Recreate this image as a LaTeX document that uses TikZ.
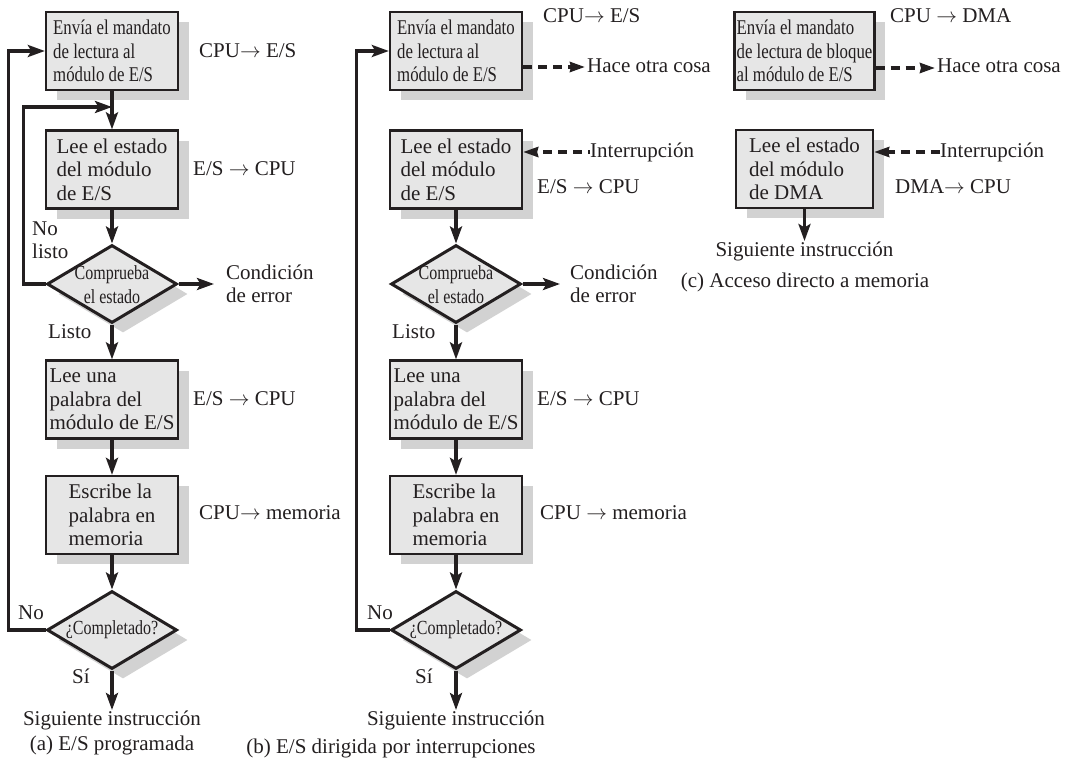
\documentclass[tikz,border=0pt]{standalone}
\usepackage{fontspec}
\setmainfont{Liberation Serif}
\newfontfamily\narrowfont[FakeStretch=0.8]{Liberation Serif}
\usetikzlibrary{shapes.geometric,shadows,arrows.meta}

\definecolor{ink}{HTML}{231F20}
\definecolor{boxfill}{HTML}{E6E6E6}
\definecolor{shade}{HTML}{D2D2D2}

\newcommand{\goesto}{\ensuremath{\rightarrow}}

\tikzset{
  txt/.style={font=\fontsize{21}{23.5}\selectfont, inner sep=0pt, text=ink},
  boxshadow/.style={general shadow={fill=shade, shadow xshift=11pt, shadow yshift=-10pt}},
  stepbox/.style={draw=ink, line width=2.3pt, fill=boxfill, minimum width=132pt,
    minimum height=78pt, inner sep=2pt, align=left, text=ink,
    font=\fontsize{21}{23.5}\selectfont, boxshadow},
  narrowbox/.style={stepbox, font=\narrowfont\fontsize{21}{23.5}\selectfont},
  decision/.style={diamond, draw=ink, line width=3pt, fill=boxfill,
    minimum width=130pt, minimum height=78pt, inner sep=0pt, boxshadow},
  decisiontext/.style={font=\narrowfont\fontsize{20}{24}\selectfont, align=center,
    inner sep=0pt, text=ink},
  flow/.style={draw=ink, line width=3.3pt, -{Stealth[length=17pt,width=12pt,inset=3.5pt]}},
  async/.style={draw=ink, line width=3.3pt, dash pattern=on 9pt off 6pt,
    -{Stealth[length=15pt,width=10pt,inset=1pt]}},
  note/.style={txt, anchor=west, text height=14pt, text depth=4pt},
  notes/.style={txt, anchor=west, align=left},
  caption/.style={txt, text height=15pt, text depth=5pt},
}

\begin{document}
\begin{tikzpicture}[x=1pt, y=-1pt]
\useasboundingbox (0,0) rectangle (1070,760);

% ---------------- (a) programmed I/O ----------------
\node[narrowbox] (a1) at (112,51) {Envía el mandato\\de lectura al\\módulo de E/S};
\node[stepbox]   (a2) at (112,169.5) {Lee el estado\\del módulo\\de E/S};
\node[decision]  (ad1) at (112,284) {};
\node[decisiontext] (ad1t) at (112,285) {Comprueba\\el estado};
\node[stepbox]   (a3) at (112,399.5) {Lee una\\palabra del\\módulo de E/S};
\node[stepbox]   (a4) at (112,515) {Escribe la\\palabra en\\memoria};
\node[decision]  (ad2) at (112,630) {};
\node[decisiontext] (ad2t) at (112,630) {¿Completado?};

\node[note] (aw1) at (199,53) {CPU\goesto\ E/S};
\node[note] (aw2) at (193,170) {E/S \goesto\ CPU};
\node[note] (aw3) at (193,400) {E/S \goesto\ CPU};
\node[note] (aw4) at (199,514) {CPU\goesto\ memoria};
\node[notes] (aerr) at (226,284) {Condición\\de error};
\node[notes] (anl) at (32,240) {No\\listo};
\node[note] (alisto) at (48,333) {Listo};
\node[note] (ano) at (18,614) {No};
\node[note] (asi) at (72,678) {Sí};
\node[caption, anchor=north] (anext) at (112,710) {Siguiente instrucción};
\node[caption] (acap) at (112,745) {(a) E/S programada};
\coordinate (aj) at (112,107);

\draw[flow] (a1) -- (a2);
\draw[flow] (a2) -- (ad1);
\draw[flow] (ad1.east) -- (aerr.west) [shorten >=12pt];
\draw[flow] (ad1.west) -- ++(-22,0) |- (aj);
\draw[flow] (ad1) -- (a3);
\draw[flow] (a3) -- (a4);
\draw[flow] (a4) -- (ad2);
\draw[flow] (ad2.west) -- ++(-37,0) |- (a1.west);
\draw[flow] (ad2) -- (anext);

% ---------------- (b) interrupt-driven I/O ----------------
\node[narrowbox] (b1) at (456,51) {Envía el mandato\\de lectura al\\módulo de E/S};
\node[stepbox]   (b2) at (456,169.5) {Lee el estado\\del módulo\\de E/S};
\node[decision]  (bd1) at (456,284) {};
\node[decisiontext] (bd1t) at (456,285) {Comprueba\\el estado};
\node[stepbox]   (b3) at (456,399.5) {Lee una\\palabra del\\módulo de E/S};
\node[stepbox]   (b4) at (456,515) {Escribe la\\palabra en\\memoria};
\node[decision]  (bd2) at (456,630) {};
\node[decisiontext] (bd2t) at (456,630) {¿Completado?};

\node[note] (bw1) at (543,18) {CPU\goesto\ E/S};
\node[note] (bhace) at (587,67) {Hace otra cosa};
\node[note] (bint) at (590,152) {Interrupción};
\node[note] (bw2) at (537,188) {E/S \goesto\ CPU};
\node[note] (bw3) at (537,400) {E/S \goesto\ CPU};
\node[note] (bw4) at (540,514) {CPU \goesto\ memoria};
\node[notes] (berr) at (570,284) {Condición\\de error};
\node[note] (blisto) at (392,333) {Listo};
\node[note] (bno) at (367,614) {No};
\node[note] (bsi) at (415,678) {Sí};
\node[caption, anchor=north] (bnext) at (456,710) {Siguiente instrucción};
\node[caption] (bcap) at (391,748) {(b) E/S dirigida por interrupciones};

\draw[async] (b1.east |- bhace.west) -- (bhace.west) [shorten >=2pt];
\draw[async, dash pattern=on 2.5pt off 6pt on 9pt off 6pt on 9pt off 6pt on 9pt off 6pt on 30pt]
  (bint.west) -- (b2.east |- bint.west);
\draw[flow] (b2) -- (bd1);
\draw[flow] (bd1.east) -- (berr.west) [shorten >=10pt];
\draw[flow] (bd1) -- (b3);
\draw[flow] (b3) -- (b4);
\draw[flow] (b4) -- (bd2);
\draw[flow] (bd2.west) -- ++(-33,0) |- (b1.west);
\draw[flow] (bd2) -- (bnext);

% ---------------- (c) direct memory access ----------------
\node[narrowbox, minimum width=137pt] (c1) at (804.5,51) {Envía el mandato\\de lectura de bloque\\al módulo de E/S};
\node[stepbox, minimum width=137pt] (c2) at (804.5,169) {Lee el estado\\del módulo\\de DMA};

\node[note] (cw1) at (890,18) {CPU \goesto\ DMA};
\node[note] (chace) at (937,68) {Hace otra cosa};
\node[note] (cint) at (940,152) {Interrupción};
\node[note] (cw2) at (895,188) {DMA\goesto\ CPU};
\node[caption, anchor=north] (cnext) at (804.5,241) {Siguiente instrucción};
\node[caption] (ccap) at (805,282) {(c) Acceso directo a memoria};

\draw[async] (c1.east |- chace.west) -- (chace.west) [shorten >=2pt];
\draw[async] (cint.west) -- (c2.east |- cint.west);
\draw[flow] (c2) -- (cnext);

\end{tikzpicture}
\end{document}
